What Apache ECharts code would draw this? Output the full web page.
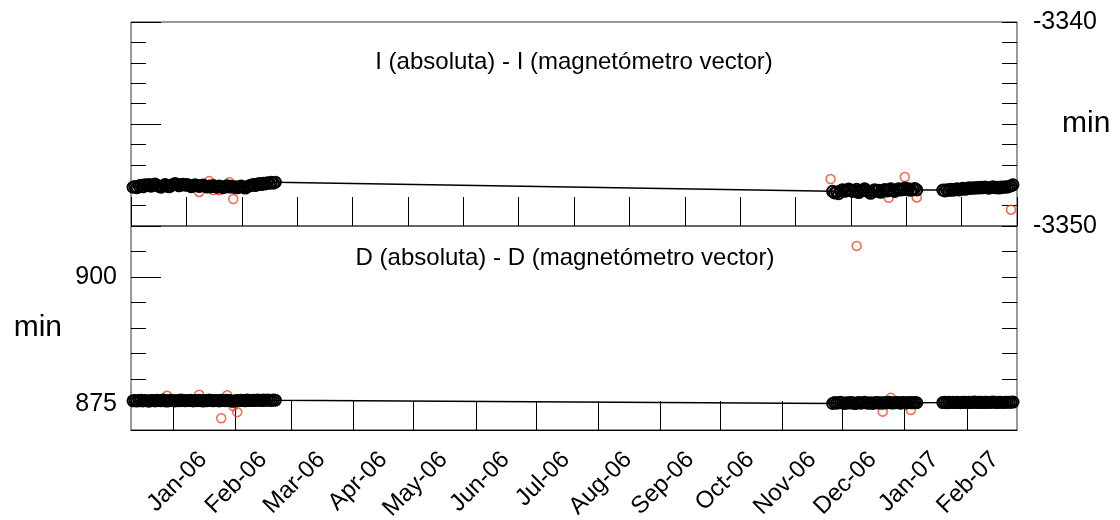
<!DOCTYPE html>
<html>
<head>
<meta charset="utf-8">
<script src="https://cdn.jsdelivr.net/npm/echarts@6/dist/echarts.min.js"></script>
<style>
  html, body { margin: 0; padding: 0; background: #fff; }
  #chart { width: 1120px; height: 520px; }
</style>
</head>
<body>
<div id="chart"></div>
<script>
// Daily baseline differences, three observation campaigns (start dates, one value per day)
const campaignStarts = ['2005-12-12', '2006-11-26', '2007-01-20'];

const incBaseline = [
  [-3348.10, -3348.06, -3348.12, -3348.04, -3348.00, -3348.08, -3347.98, -3348.02, -3347.96, -3348.05,
   -3347.99, -3347.94, -3348.01, -3348.06, -3348.10, -3348.03, -3347.97, -3348.04, -3348.08, -3348.02,
   -3347.96, -3347.92, -3347.98, -3348.03, -3347.97, -3347.95, -3348.00, -3347.96, -3348.02, -3348.07,
   -3348.04, -3347.98, -3348.01, -3348.06, -3348.03, -3347.99, -3348.05, -3348.09, -3348.04, -3348.08,
   -3348.02, -3348.06, -3348.10, -3348.04, -3348.08, -3348.12, -3348.06, -3348.03, -3348.09, -3348.05,
   -3348.10, -3348.07, -3348.13, -3348.08, -3348.04, -3348.10, -3348.14, -3348.08, -3348.03, -3348.00,
   -3347.97, -3348.02, -3347.95, -3347.92, -3347.97, -3347.90, -3347.94, -3347.88, -3347.91, -3347.86,
   -3347.90, -3347.85],
  [-3348.30, -3348.38, -3348.33, -3348.42, -3348.28, -3348.22, -3348.30, -3348.25, -3348.19, -3348.24,
   -3348.31, -3348.27, -3348.20, -3348.36, -3348.29, -3348.23, -3348.18, -3348.26, -3348.33, -3348.40,
   -3348.28, -3348.22, -3348.30, -3348.25, -3348.35, -3348.27, -3348.21, -3348.29, -3348.24, -3348.18,
   -3348.26, -3348.31, -3348.22, -3348.17, -3348.24, -3348.20, -3348.14, -3348.22, -3348.18, -3348.25,
   -3348.20, -3348.16, -3348.23],
  [-3348.24, -3348.28, -3348.22, -3348.26, -3348.20, -3348.25, -3348.21, -3348.18, -3348.23, -3348.19,
   -3348.15, -3348.20, -3348.17, -3348.13, -3348.16, -3348.12, -3348.15, -3348.11, -3348.14, -3348.10,
   -3348.13, -3348.09, -3348.12, -3348.15, -3348.11, -3348.08, -3348.12, -3348.10, -3348.14, -3348.09,
   -3348.11, -3348.07, -3348.10, -3348.06, -3348.03, -3347.98]
];

const decBaseline = [
  [875.72, 875.80, 875.68, 875.76, 875.84, 875.70, 875.78, 875.74, 875.66, 875.80,
   875.76, 875.70, 875.82, 875.78, 875.72, 875.86, 875.74, 875.68, 875.78, 875.82,
   875.76, 875.70, 875.80, 875.74, 875.88, 875.78, 875.72, 875.80, 875.76, 875.84,
   875.70, 875.78, 875.74, 875.82, 875.76, 875.68, 875.80, 875.74, 875.86, 875.78,
   875.72, 875.80, 875.76, 875.70, 875.84, 875.78, 875.74, 875.82, 875.76, 875.70,
   875.62, 875.74, 875.80, 875.76, 875.84, 875.78, 875.72, 875.86, 875.80, 875.76,
   875.84, 875.78, 875.88, 875.82, 875.76, 875.86, 875.80, 875.90, 875.84, 875.80,
   875.88, 875.84],
  [875.20, 875.38, 875.26, 875.34, 875.42, 875.30, 875.22, 875.36, 875.28, 875.40,
   875.32, 875.18, 875.30, 875.38, 875.24, 875.34, 875.44, 875.30, 875.26, 875.36,
   875.22, 875.32, 875.40, 875.28, 875.34, 875.24, 875.38, 875.30, 875.42, 875.34,
   875.28, 875.36, 875.40, 875.32, 875.26, 875.38, 875.34, 875.30, 875.40, 875.36,
   875.32, 875.38, 875.34],
  [875.38, 875.44, 875.36, 875.42, 875.40, 875.46, 875.38, 875.44, 875.40, 875.36,
   875.42, 875.46, 875.40, 875.44, 875.38, 875.42, 875.48, 875.40, 875.44, 875.42,
   875.38, 875.46, 875.42, 875.40, 875.44, 875.48, 875.42, 875.38, 875.44, 875.46,
   875.40, 875.44, 875.42, 875.46, 875.44, 875.48]
];

// Individual absolute observations (dates and values)
const incObsDates = ['2005-12-29', '2006-01-14', '2006-01-19', '2006-01-21', '2006-01-24', '2006-01-29',
                     '2006-01-31', '2006-11-25', '2006-12-10', '2006-12-24', '2007-01-01', '2007-01-07',
                     '2007-02-05', '2007-02-23'];
const incObsValues = [-3347.95, -3348.33, -3347.80, -3348.24, -3348.25, -3347.85,
                      -3348.68, -3347.70, -3348.25, -3348.62, -3347.60, -3348.60,
                      -3348.12, -3349.20];

const decObsDates = ['2005-12-29', '2006-01-14', '2006-01-25', '2006-01-28', '2006-01-31', '2006-02-02',
                     '2006-12-08', '2006-12-21', '2006-12-25', '2007-01-04', '2007-02-11'];
const decObsValues = [876.70, 876.90, 872.30, 876.80, 874.70, 873.50,
                      906.10, 873.60, 876.30, 873.90, 875.20];

// Time range and month labels
const axisStart = '2005-12-11';
const axisEnd = '2007-02-26';
const monthTicks = ['2006-01-01', '2006-02-01', '2006-03-01', '2006-04-01', '2006-05-01', '2006-06-01',
                    '2006-07-01', '2006-08-01', '2006-09-01', '2006-10-01', '2006-11-01', '2006-12-01',
                    '2007-01-01', '2007-02-01'];
const monthLabelDates = ['2006-01-16', '2006-02-15', '2006-03-16', '2006-04-16', '2006-05-16', '2006-06-16',
                         '2006-07-16', '2006-08-16', '2006-09-16', '2006-10-16', '2006-11-16', '2006-12-16',
                         '2007-01-16', '2007-02-15'];
const monthLabels = ['Jan-06', 'Feb-06', 'Mar-06', 'Apr-06', 'May-06', 'Jun-06', 'Jul-06',
                     'Aug-06', 'Sep-06', 'Oct-06', 'Nov-06', 'Dec-06', 'Jan-07', 'Feb-07'];

const panelTitles = ['I (absoluta) - I (magnetómetro vector)', 'D (absoluta) - D (magnetómetro vector)'];
const unitName = 'min';

// ---- helpers ----
const DAY = 86400000;
function ts(s) {
  const p = s.split('-').map(Number);
  return Date.UTC(p[0], p[1] - 1, p[2]);
}
function dailySeries(blocks) {
  const out = [];
  blocks.forEach((vals, b) => {
    const t0 = ts(campaignStarts[b]);
    vals.forEach((v, i) => out.push([t0 + i * DAY, v]));
  });
  return out;
}
function pairs(dates, vals) { return dates.map((d, i) => [ts(d), vals[i]]); }

const labelByTime = {};
monthLabelDates.forEach((d, i) => { labelByTime[ts(d)] = monthLabels[i]; });

const FONT = '"Liberation Sans", Arial, sans-serif';
const INK = '#000';
const FRAME = '#333';
const RED = '#EE4422';

const chart = echarts.init(document.getElementById('chart'), null, { renderer: 'canvas' });

const ring = (c, w) => ({ color: 'rgba(0,0,0,0)', borderColor: c, borderWidth: w });

chart.setOption({
  animation: false,
  backgroundColor: '#fff',
  textStyle: { fontFamily: FONT },
  title: [
    { text: panelTitles[0], left: 574, top: 50, textAlign: 'center', padding: 0,
      textStyle: { fontSize: 24, fontWeight: 'normal', color: INK, fontFamily: FONT } },
    { text: panelTitles[1], left: 565, top: 246, textAlign: 'center', padding: 0,
      textStyle: { fontSize: 24, fontWeight: 'normal', color: INK, fontFamily: FONT } }
  ],
  grid: [
    { left: 131, top: 22, width: 886, height: 204, show: true, borderColor: FRAME, borderWidth: 1,
      containLabel: false, outerBoundsMode: 'none' },
    { left: 131, top: 226, width: 886, height: 204, show: true, borderColor: FRAME, borderWidth: 1,
      containLabel: false, outerBoundsMode: 'none' }
  ],
  xAxis: [
    // upper panel: date scale (ms)
    { type: 'value', gridIndex: 0, min: ts(axisStart), max: ts(axisEnd),
      axisLine: { show: false }, axisTick: { show: false },
      axisLabel: { show: false }, splitLine: { show: false } },
    // upper panel tick marks
    { type: 'value', gridIndex: 0, min: 0, max: 16, interval: 1, position: 'bottom',
      axisLine: { show: false },
      axisTick: { show: true, inside: true, length: 29, lineStyle: { color: INK, width: 1 } },
      axisLabel: { show: false }, splitLine: { show: false } },
    // lower panel: date scale, month ticks and labels
    { type: 'value', gridIndex: 1, min: ts(axisStart), max: ts(axisEnd), position: 'bottom',
      axisLine: { show: true, lineStyle: { color: INK, width: 1 } },
      axisTick: { show: true, inside: true, length: 29, lineStyle: { color: INK, width: 1 },
                  customValues: monthTicks.map(ts) },
      axisLabel: { show: true, rotate: 45, margin: 26, fontSize: 24, color: INK, fontFamily: FONT,
                   customValues: monthLabelDates.map(ts), hideOverlap: false,
                   formatter: v => labelByTime[v] || '' },
      splitLine: { show: false } }
  ],
  yAxis: [
    // upper panel, left: minor ticks
    { type: 'value', gridIndex: 0, position: 'left', min: -3350, max: -3340, interval: 1,
      axisLine: { show: false },
      axisTick: { show: true, inside: true, length: 15, lineStyle: { color: INK } },
      axisLabel: { show: false }, splitLine: { show: false } },
    // upper panel, left: major ticks
    { type: 'value', gridIndex: 0, position: 'left', min: -3350, max: -3340,
      axisLine: { show: false },
      axisTick: { show: true, inside: true, length: 30, lineStyle: { color: INK },
                  customValues: [-3350, -3345, -3340] },
      axisLabel: { show: false }, splitLine: { show: false } },
    // upper panel, right: ticks, labels, unit
    { type: 'value', gridIndex: 0, position: 'right', min: -3350, max: -3340, interval: 1,
      name: unitName, nameLocation: 'middle', nameRotate: 0, nameGap: 45, nameMoveOverlap: false,
      nameTextStyle: { fontSize: 30, color: INK, fontFamily: FONT },
      axisLine: { show: false },
      axisTick: { show: true, inside: true, length: 15, lineStyle: { color: INK } },
      axisLabel: { show: true, margin: 16, fontSize: 25, color: INK, fontFamily: FONT,
                   formatter: v => (v === -3340 || v === -3350) ? String(v) : '' },
      splitLine: { show: false } },
    // lower panel, left: minor ticks, labels, unit
    { type: 'value', gridIndex: 1, position: 'left', min: 870, max: 910, interval: 5,
      name: unitName, nameLocation: 'middle', nameRotate: 0, nameGap: 69, nameMoveOverlap: false,
      nameTextStyle: { fontSize: 30, color: INK, fontFamily: FONT },
      axisLine: { show: false },
      axisTick: { show: true, inside: true, length: 15, lineStyle: { color: INK } },
      axisLabel: { show: true, margin: 14, fontSize: 25, color: INK, fontFamily: FONT,
                   formatter: v => (v === 875 || v === 900) ? String(v) : '' },
      splitLine: { show: false } },
    // lower panel, left: major ticks
    { type: 'value', gridIndex: 1, position: 'left', min: 870, max: 910,
      axisLine: { show: false },
      axisTick: { show: true, inside: true, length: 30, lineStyle: { color: INK },
                  customValues: [875, 900] },
      axisLabel: { show: false }, splitLine: { show: false } },
    // lower panel, right: ticks
    { type: 'value', gridIndex: 1, position: 'right', min: 870, max: 910, interval: 5,
      axisLine: { show: false },
      axisTick: { show: true, inside: true, length: 15, lineStyle: { color: INK } },
      axisLabel: { show: false }, splitLine: { show: false } }
  ],
  series: [
    { name: 'I obs', type: 'scatter', xAxisIndex: 0, yAxisIndex: 0,
      symbol: 'circle', symbolSize: 9, itemStyle: ring(RED, 1.5),
      data: pairs(incObsDates, incObsValues), z: 2 },
    { name: 'I base', type: 'line', xAxisIndex: 0, yAxisIndex: 0,
      symbol: 'circle', symbolSize: 11, showSymbol: true, showAllSymbol: true,
      lineStyle: { color: INK, width: 1.5 }, itemStyle: ring(INK, 2),
      data: dailySeries(incBaseline), z: 3 },
    { name: 'D obs', type: 'scatter', xAxisIndex: 2, yAxisIndex: 3,
      symbol: 'circle', symbolSize: 9, itemStyle: ring(RED, 1.5),
      data: pairs(decObsDates, decObsValues), z: 2 },
    { name: 'D base', type: 'line', xAxisIndex: 2, yAxisIndex: 3,
      symbol: 'circle', symbolSize: 11, showSymbol: true, showAllSymbol: true,
      lineStyle: { color: INK, width: 1.5 }, itemStyle: ring(INK, 2),
      data: dailySeries(decBaseline), z: 3 }
  ]
});
</script>
</body>
</html>
